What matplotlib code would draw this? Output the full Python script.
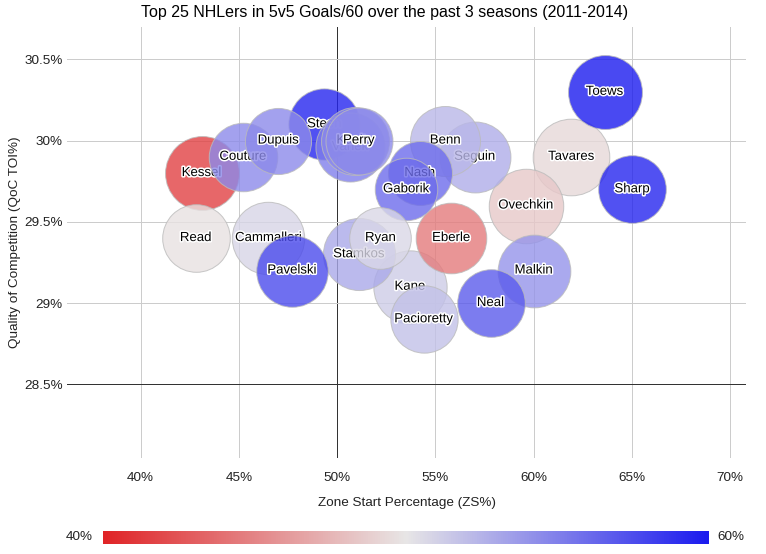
import matplotlib
matplotlib.use('Agg')
import matplotlib.pyplot as plt
from matplotlib.colors import LinearSegmentedColormap, Normalize
import matplotlib.patheffects as pe
import numpy as np

plt.rcParams['font.family'] = ['Liberation Sans', 'DejaVu Sans']

# ---------------- data ----------------
players = ["Toews", "Tavares", "Sharp", "Ovechkin", "Malkin", "Neal", "Eberle",
           "Benn", "Seguin", "Nash", "Gaborik", "Ryan", "Stamkos", "Kane",
           "Pacioretty", "Perry", "Kunitz", "Vanek", "Steen", "Dupuis",
           "Couture", "Kessel", "Read", "Cammalleri", "Pavelski"]
zone_start = [63.6, 61.9, 65.0, 59.6, 60.0, 57.8, 55.8,
              55.5, 57.0, 54.2, 53.5, 52.2, 51.1, 53.7,
              54.4, 51.1, 50.9, 50.65, 49.35, 47.0,
              45.2, 43.1, 42.8, 46.5, 47.7]
qoc = [30.3, 29.9, 29.7, 29.6, 29.2, 29.0, 29.4,
       30.0, 29.9, 29.8, 29.7, 29.4, 29.3, 29.1,
       28.9, 30.0, 30.0, 29.96, 30.1, 30.0,
       29.9, 29.8, 29.4, 29.4, 29.2]
color_metric = [60.0, 49.3, 59.5, 48.5, 54.0, 56.8, 44.5,
                52.3, 52.8, 56.0, 56.0, 50.7, 53.0, 51.3,
                51.8, 54.5, 54.5, 55.0, 59.5, 54.5,
                54.5, 41.5, 49.8, 50.8, 57.6]
goals60 = [1.41, 1.50, 1.20, 1.43, 1.37, 1.20, 1.30,
           1.28, 1.31, 1.08, 1.03, 1.00, 1.35, 1.39,
           1.19, 1.18, 1.21, 1.25, 1.32, 1.15,
           1.23, 1.41, 1.20, 1.36, 1.33]
x_ticks = [40, 45, 50, 55, 60, 65, 70]
y_ticks = [28.5, 29.0, 29.5, 30.0, 30.5]
color_range = [40, 60]

title = "Top 25 NHLers in 5v5 Goals/60 over the past 3 seasons (2011-2014)"
xlabel = "Zone Start Percentage (ZS%)"
ylabel = "Quality of Competition (QoC TOI%)"

# ---------------- figure ----------------
W, H, DPI = 766, 554, 100
fig = plt.figure(figsize=(W / DPI, H / DPI), dpi=DPI)
L, R, T, B = 67, 746, 27, 457.7
ax = fig.add_axes([L / W, 1 - B / H, (R - L) / W, (B - T) / H])
ax.set_xlim(36.25, 70.8)
ax.set_ylim(28.048, 30.699)
for s in ax.spines.values():
    s.set_visible(False)

grid_c = '#cccccc'
px = 72 / DPI
for xv in x_ticks:
    ax.axvline(xv, color='#333333' if xv == 50 else grid_c, lw=1.0 * px, zorder=1)
for yv in y_ticks:
    ax.axhline(yv, color='#333333' if yv == 28.5 else grid_c, lw=1.0 * px, zorder=1)

def fmt(v):
    return (f"{v:g}") + "%"

ax.set_xticks(x_ticks)
ax.set_xticklabels([fmt(v) for v in x_ticks])
ax.set_yticks(y_ticks)
ax.set_yticklabels([fmt(v) for v in y_ticks])
ax.tick_params(axis='both', length=0, labelsize=9.7, labelcolor='#222222')
ax.tick_params(axis='x', pad=10)
ax.tick_params(axis='y', pad=3)

cmap = LinearSegmentedColormap.from_list('rwb', ['#e02427', '#e8e6e6', '#1b1bef'])
norm = Normalize(color_range[0], color_range[1])

g = np.array(goals60)
rmin, rmax = 30.8, 38.3
radii = rmin + (g - g.min()) / (g.max() - g.min()) * (rmax - rmin)
order = sorted(range(len(players)), key=lambda i: -goals60[i])

for k, i in enumerate(order):
    col = cmap(norm(color_metric[i]))
    d = 2 * radii[i] * px
    ax.scatter([zone_start[i]], [qoc[i]], s=d ** 2, color=col, alpha=0.8,
               edgecolors='#bbbbbb', linewidths=1.0 * px, zorder=3 + 2 * k)
    ax.text(zone_start[i], qoc[i], players[i], ha='center', va='center',
            fontsize=9.5, color='black', zorder=4 + 2 * k,
            path_effects=[pe.withStroke(linewidth=2.2, foreground='white')])

fig.text(385 / W, 1 - 13 / H, title, ha='center', va='center', fontsize=11.5, color='#000000')
fig.text(406.5 / W, 1 - 502.7 / H, xlabel, ha='center', va='center', fontsize=9.7, color='#222222')
fig.text(15 / W, 1 - 242.3 / H, ylabel, ha='center', va='center', rotation=90, fontsize=9.7, color='#222222')

# colour legend
cax = fig.add_axes([103.3 / W, 1 - 543.7 / H, (709 - 103.3) / W, 12.7 / H])
cax.imshow(np.linspace(0, 1, 512)[None, :], aspect='auto', cmap=cmap, extent=[0, 1, 0, 1])
cax.axis('off')
fig.text(92.7 / W, 1 - 537.5 / H, fmt(color_range[0]), ha='right', va='center', fontsize=9.7, color='#222222')
fig.text(717 / W, 1 - 537.5 / H, fmt(color_range[1]), ha='left', va='center', fontsize=9.7, color='#222222')

fig.savefig('out.png', dpi=DPI)
